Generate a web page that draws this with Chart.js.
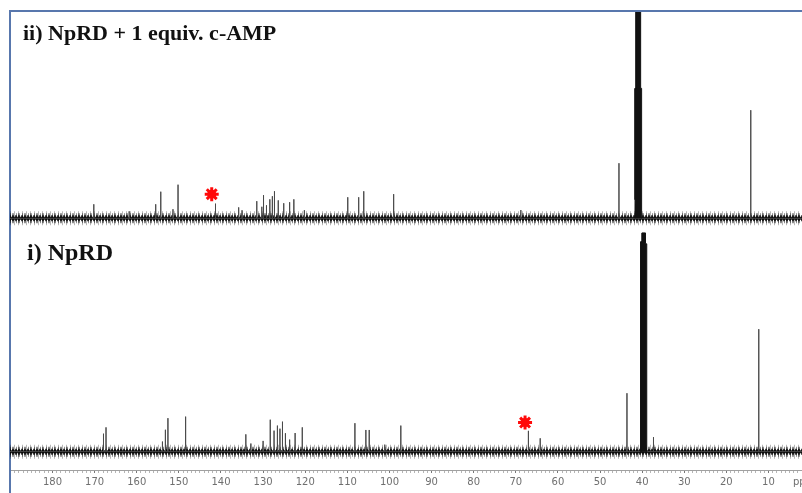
<!DOCTYPE html>
<html>
<head>
<meta charset="utf-8">
<script src="https://cdn.jsdelivr.net/npm/chart.js@4/dist/chart.umd.min.js"></script>
<style>
  html, body { margin: 0; padding: 0; background: #ffffff; overflow: hidden; }
  #wrap { position: relative; width: 802px; height: 493px; overflow: hidden; }
</style>
</head>
<body>
<div id="wrap"><canvas id="nmr" width="806" height="493"></canvas></div>
<script>
// Chemical-shift window (ppm), right edge to left edge
const ppmMin = 1.8;
const ppmMax = 190.1;

// Tick labels shown on the ppm axis
const tickLabels = [180, 170, 160, 150, 140, 130, 120, 110, 100, 90, 80, 70, 60, 50, 40, 30, 20, 10];
const axisUnit = 'ppm';

// Spectrum ii) NpRD + 1 equiv. c-AMP : peak positions (ppm) and relative intensities
const topPeakPpm    = [170.2, 161.8, 155.5, 154.3, 151.4, 150.2, 141.3, 135.8, 135.0, 131.5, 130.3, 129.9, 129.2, 128.4,
                       127.8, 127.3, 126.4, 125.1, 123.7, 122.7, 120.2, 109.9, 107.3, 106.1, 99.0, 68.8, 45.5, 14.2];
const topPeakHeight = [6.8, 3.4, 6.8, 12.9, 4.4, 16.3, 7.1, 5.3, 3.9, 8.3, 5.6, 11.2, 6.3, 9.2,
                       10.7, 13.1, 8.7, 7.3, 7.8, 9.2, 3.9, 10.2, 10.2, 13.1, 11.7, 4.0, 26.7, 52.4];

// Spectrum i) NpRD : peak positions (ppm) and relative intensities
const botPeakPpm    = [167.9, 167.3, 153.9, 153.2, 152.6, 148.4, 134.1, 132.9, 130.0, 128.3, 127.4, 126.6, 126.0, 125.4,
                       124.7, 123.7, 122.4, 120.7, 108.2, 105.6, 104.8, 101.1, 97.3, 67.0, 64.2, 43.6, 37.3, 12.3];
const botPeakHeight = [8.2, 11.1, 4.6, 10.0, 15.3, 16.0, 7.9, 3.7, 4.9, 14.6, 9.6, 11.9, 10.5, 13.7,
                       8.4, 5.5, 8.5, 11.1, 13.0, 9.9, 9.9, 3.2, 11.9, 9.5, 6.1, 26.7, 6.6, 56.0];

// DMSO-d6 solvent multiplet: centre shift and envelope (offset from centre, intensity)
const topSolventPpm = 40.9;
const topSolventOffset = [-0.8, -0.78, -0.78, -0.55, -0.55, 0.55, 0.55, 0.78, 0.78, 0.8];
const topSolventHeight = [0, 9, 63, 63, 150, 150, 63, 63, 9, 0];
const botSolventPpm = 39.6;
const botSolventOffset = [-0.75, -0.7, -0.7, -0.4, -0.4, 0.4, 0.4, 0.7, 0.7, 0.75];
const botSolventHeight = [0, 18, 95, 95, 100, 100, 96, 96, 18, 0];

// Red markers flagging the signal that changes on c-AMP binding
const markerPpm   = [142.2, 67.8];
const markerLevel = [11.7, 13.3];

const panelTitles = ['ii) NpRD + 1 equiv. c-AMP', 'i) NpRD'];

// Stick spectrum: each line rises from the baseline and returns to it
function stickSpectrum(ppm, height) {
  const pts = [{ x: ppmMin, y: 0 }, { x: ppmMax, y: 0 }];
  ppm.forEach((p, i) => {
    pts.push({ x: p, y: 0 }, { x: p, y: height[i] }, { x: p, y: 0 });
  });
  return pts.sort((a, b) => a.x - b.x);
}
function solventEnvelope(centre, offset, height) {
  return offset.map((o, i) => ({ x: centre + o, y: height[i] }));
}
function flatBaseline() {
  return [{ x: ppmMin, y: 0 }, { x: ppmMax, y: 0 }];
}

const lineBase = { pointRadius: 0, pointHoverRadius: 0, tension: 0, fill: false };

// Baseline noise band drawn as layered strokes along the zero line
function noiseLayers(axis) {
  return [
    Object.assign({}, lineBase, { data: flatBaseline(), yAxisID: axis, borderColor: 'rgba(0,0,0,0.28)', borderWidth: 14, borderDash: [1, 3] }),
    Object.assign({}, lineBase, { data: flatBaseline(), yAxisID: axis, borderColor: 'rgba(0,0,0,0.45)', borderWidth: 10, borderDash: [1, 2, 2, 1] }),
    Object.assign({}, lineBase, { data: flatBaseline(), yAxisID: axis, borderColor: 'rgba(0,0,0,0.75)', borderWidth: 6, borderDash: [2, 1] }),
    Object.assign({}, lineBase, { data: flatBaseline(), yAxisID: axis, borderColor: 'rgba(8,8,8,0.92)', borderWidth: 3 })
  ];
}

const datasets = [
  // markers (drawn on top)
  { type: 'scatter', data: [{ x: markerPpm[0], y: markerLevel[0] }], yAxisID: 'yTop',
    pointStyle: 'star', pointRadius: 7, borderColor: '#ff0a0a', borderWidth: 3, backgroundColor: '#ff0a0a' },
  { type: 'scatter', data: [{ x: markerPpm[0], y: markerLevel[0] }], yAxisID: 'yTop',
    pointStyle: 'circle', pointRadius: 4.5, borderWidth: 0, backgroundColor: '#ff0a0a' },
  { type: 'scatter', data: [{ x: markerPpm[1], y: markerLevel[1] }], yAxisID: 'yBot',
    pointStyle: 'star', pointRadius: 7, borderColor: '#ff0a0a', borderWidth: 3, backgroundColor: '#ff0a0a' },
  { type: 'scatter', data: [{ x: markerPpm[1], y: markerLevel[1] }], yAxisID: 'yBot',
    pointStyle: 'circle', pointRadius: 4.5, borderWidth: 0, backgroundColor: '#ff0a0a' },
  // solvent multiplets
  Object.assign({}, lineBase, { data: solventEnvelope(topSolventPpm, topSolventOffset, topSolventHeight), yAxisID: 'yTop',
    borderColor: '#111', borderWidth: 1, fill: 'origin', backgroundColor: '#111' }),
  Object.assign({}, lineBase, { data: solventEnvelope(botSolventPpm, botSolventOffset, botSolventHeight), yAxisID: 'yBot',
    borderColor: '#111', borderWidth: 1, fill: 'origin', backgroundColor: '#111' }),
  // sample signals
  Object.assign({}, lineBase, { data: stickSpectrum(topPeakPpm, topPeakHeight), yAxisID: 'yTop', borderColor: '#4a4a4a', borderWidth: 1 }),
  Object.assign({}, lineBase, { data: stickSpectrum(botPeakPpm, botPeakHeight), yAxisID: 'yBot', borderColor: '#4a4a4a', borderWidth: 1 }),
  ...noiseLayers('yTop'),
  ...noiseLayers('yBot')
];

// Blue frame along the top and left of the figure, panel captions and axis unit
const framePlugin = {
  id: 'frameAndCaptions',
  beforeDatasetsDraw(chart) {
    const ctx = chart.ctx;
    const a = chart.chartArea;
    ctx.save();
    ctx.strokeStyle = '#5877ad';
    ctx.lineWidth = 2;
    ctx.beginPath();
    ctx.moveTo(a.left, a.top - 1);
    ctx.lineTo(chart.width, a.top - 1);
    ctx.moveTo(a.left, a.top - 2);
    ctx.lineTo(a.left, chart.height);
    ctx.stroke();
    ctx.restore();
  },
  afterDraw(chart) {
    const ctx = chart.ctx;
    const x = chart.scales.x;
    ctx.save();
    ctx.fillStyle = '#111';
    ctx.textBaseline = 'alphabetic';
    ctx.font = 'bold 22px "Liberation Serif", "Times New Roman", serif';
    ctx.fillText(panelTitles[0], 23, 39.5);
    ctx.font = 'bold 24px "Liberation Serif", "Times New Roman", serif';
    ctx.fillText(panelTitles[1], 27, 260);
    // unit label at the low-field end of the axis
    ctx.fillStyle = '#6f6f6f';
    ctx.font = '10px "DejaVu Sans", sans-serif';
    ctx.textBaseline = 'middle';
    ctx.textAlign = 'left';
    ctx.fillText(axisUnit, x.getPixelForValue(ppmMin) - 10, 482);
    ctx.restore();
  }
};

new Chart(document.getElementById('nmr'), {
  type: 'line',
  data: { datasets },
  options: {
    responsive: false,
    devicePixelRatio: 1,
    animation: false,
    events: [],
    layout: { autoPadding: false, padding: { top: 12, left: 10, right: 0, bottom: 2 } },
    plugins: { legend: { display: false }, tooltip: { enabled: false }, title: { display: false } },
    scales: {
      x: {
        type: 'linear',
        reverse: true,
        min: ppmMin,
        max: ppmMax,
        grid: {
          drawOnChartArea: false,
          drawTicks: true,
          tickLength: 3,
          tickColor: (c) => (tickLabels.includes(c.tick && c.tick.value) ? '#777' : '#b5b5b5'),
          tickWidth: 1
        },
        border: { display: true, color: '#a0a0a0', width: 1 },
        ticks: {
          stepSize: 1,
          autoSkip: false,
          maxRotation: 0,
          minRotation: 0,
          padding: 3,
          color: '#6f6f6f',
          font: { family: '"DejaVu Sans", sans-serif', size: 10 },
          callback: (v) => (tickLabels.includes(v) ? String(v) : '')
        }
      },
      yTop: { type: 'linear', display: false, min: -122, max: 100 },
      yBot: { type: 'linear', display: false, min: -8.4, max: 201 }
    }
  },
  plugins: [framePlugin]
});
</script>
</body>
</html>
